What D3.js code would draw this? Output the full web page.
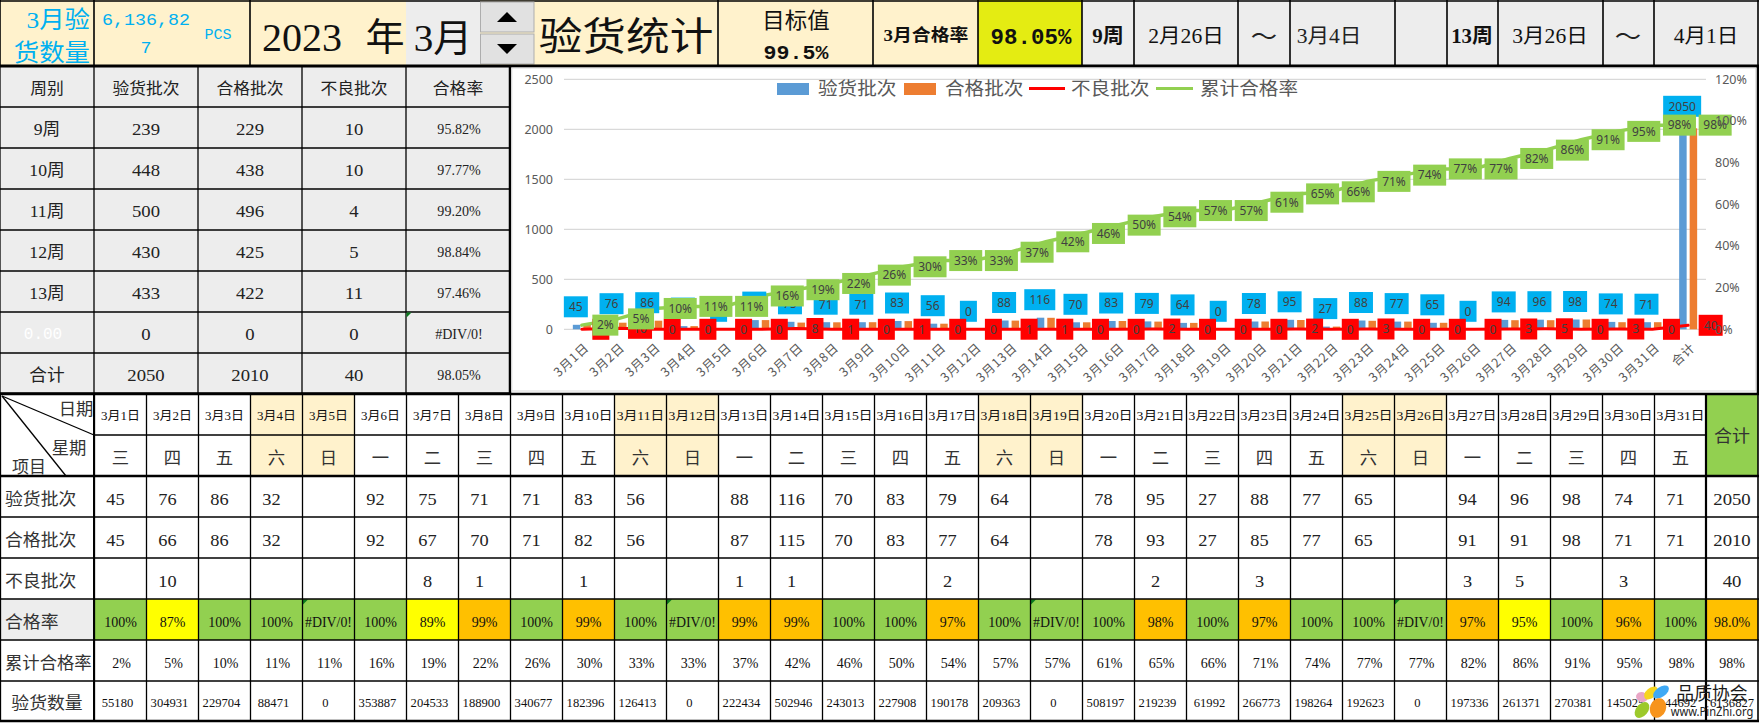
<!DOCTYPE html>
<html><head><meta charset="utf-8">
<script src="https://cdn.jsdelivr.net/npm/d3@7/dist/d3.min.js"></script>
<style>html,body{margin:0;padding:0;background:#fff;overflow:hidden}svg{display:block}</style>
</head><body><svg id="c" width="1759" height="723"></svg>
<script>
// ---------- data ----------
const days = ["3月1日","3月2日","3月3日","3月4日","3月5日","3月6日","3月7日","3月8日","3月9日","3月10日","3月11日","3月12日","3月13日","3月14日","3月15日","3月16日","3月17日","3月18日","3月19日","3月20日","3月21日","3月22日","3月23日","3月24日","3月25日","3月26日","3月27日","3月28日","3月29日","3月30日","3月31日"];
const weekdays = ["三","四","五","六","日","一","二","三","四","五","六","日","一","二","三","四","五","六","日","一","二","三","四","五","六","日","一","二","三","四","五"];
const inspected = [45,76,86,32,null,92,75,71,71,83,56,null,88,116,70,83,79,64,null,78,95,27,88,77,65,null,94,96,98,74,71];
const passed    = [45,66,86,32,null,92,67,70,71,82,56,null,87,115,70,83,77,64,null,78,93,27,85,77,65,null,91,91,98,71,71];
const defects   = [null,10,null,null,null,null,8,1,null,1,null,null,1,1,null,null,2,null,null,null,2,null,3,null,null,null,3,5,null,3,null];
const passRate  = [100,87,100,100,null,100,89,99,100,99,100,null,99,99,100,100,97,100,null,100,98,100,97,100,100,null,97,95,100,96,100];
const cumRate   = [2,5,10,11,11,16,19,22,26,30,33,33,37,42,46,50,54,57,57,61,65,66,71,74,77,77,82,86,91,95,98];
const quantity  = [55180,304931,229704,88471,0,353887,204533,188900,340677,182396,126413,0,222434,502946,243013,227908,190178,209363,0,508197,219239,61992,266773,198264,192623,0,197336,261371,270381,145025,144692];
const totals = {inspected:2050, passed:2010, defects:40, rate:98, rateText:"98.0%", cum:98, qty:6136827};
const rowLabels = ["验货批次","合格批次","不良批次","合格率","累计合格率","验货数量"];
const weekHead = ["周别","验货批次","合格批次","不良批次","合格率"];
const weekNames = ["9周","10周","11周","12周","13周","0.00","合计"];
const weekInspected = [239,448,500,430,433,0,2050];
const weekPassed = [229,438,496,425,422,0,2010];
const weekDefects = [10,10,4,5,11,0,40];
const weekRate = ["95.82%","97.77%","99.20%","98.84%","97.46%","#DIV/0!","98.05%"];
const leftTicks = [0,500,1000,1500,2000,2500];
const rightTicks = [0,20,40,60,80,100,120];
const legendNames = ["验货批次","合格批次","不良批次","累计合格率"];

// ---------- helpers ----------
const SERIF = "'Liberation Serif','Noto Sans CJK SC',serif";
const MONO = "'Liberation Mono','Noto Sans CJK SC',monospace";
const SANS = "'Noto Sans','Noto Sans CJK SC',sans-serif";
const CREAM="#FFF2CC", GRAY="#EDEDED", CYAN="#00B0F0", GREEN="#92D050", ORANGE="#FFC000", YELLOW="#FFFF00";
const svg = d3.select("#c");
const T = (g,x,y,s,o={}) => g.append("text")
  .attr("transform",`translate(${x},${y}) scale(${o.sx||1.08},1)`)
  .attr("dy",".36em").attr("text-anchor",o.anchor||"middle")
  .attr("font-family",o.family||SERIF).attr("font-size",o.size||16)
  .attr("font-weight",o.weight||400).attr("fill",o.fill||"#111").text(s);
const R = (g,x,y,w,h,f) => g.append("rect").attr("x",x).attr("y",y).attr("width",w).attr("height",h).attr("fill",f);
const L = (g,x1,y1,x2,y2,w=1.3,c="#000") => g.append("line").attr("x1",x1).attr("y1",y1).attr("x2",x2).attr("y2",y2).attr("stroke",c).attr("stroke-width",w);
const corner = (g,x,y) => g.append("path").attr("d",`M${x+.5},${y+.5}h5l-5,5z`).attr("fill","#0B7A1E");

// ---------- top band ----------
const band = svg.append("g");
R(band,0,0,406,66,CREAM); R(band,406,0,74,66,GRAY); R(band,480,0,238,66,CREAM);
R(band,718,0,260,66,CREAM); R(band,978,0,104,66,"#E4EC12"); R(band,1082,0,677,66,GRAY);
[0,94,250,718,873,978,1082,1134,1238,1290,1395,1447,1498,1603,1654,1758].forEach(x=>L(band,x,0,x,66,1.6));
L(band,0,1,1759,1,1.6);
T(band,90,19,"3月验",{size:24,sx:1.06,anchor:"end",fill:CYAN});
T(band,90,52,"货数量",{size:24,sx:1.06,anchor:"end",fill:CYAN});
T(band,146,19,"6,136,82",{size:17,family:MONO,fill:CYAN});
T(band,146,47,"7",{size:17,family:MONO,fill:CYAN});
T(band,218,34,"PCS",{size:15,sx:1,family:MONO,fill:CYAN});
T(band,302,37,"2023",{size:40,sx:1});
T(band,385,36,"年",{size:38,sx:1.03});
T(band,443,37,"3月",{size:38,sx:1.03});
T(band,626,36,"验货统计",{size:39,sx:1.12});
T(band,796,20,"目标值",{size:22,sx:1.02});
T(band,796,52,"99.5%",{size:20,sx:1.08,family:MONO,weight:700});
T(band,926,35,"3月合格率",{size:17,sx:1.11,weight:700});
T(band,1031,36,"98.05%",{size:22,sx:1.02,family:MONO,weight:700});
T(band,1108,36,"9周",{size:20,sx:1.05,weight:700});
T(band,1186,36,"2月26日",{size:20,sx:1.08});
T(band,1264,36,"～",{size:24,sx:1.1,fill:"#222"});
T(band,1329,36,"3月4日",{size:20,sx:1.08,fill:"#222"});
T(band,1472,36,"13周",{size:20,sx:1.04,weight:700});
T(band,1550,36,"3月26日",{size:20,sx:1.08});
T(band,1628,36,"～",{size:24,sx:1.1,fill:"#222"});
T(band,1706,36,"4月1日",{size:20,sx:1.08});
[[2,-1],[34,1]].forEach(([y,d])=>{
  band.append("rect").attr("x",480.5).attr("y",y).attr("width",53.5).attr("height",30).attr("fill","#E1E1E1").attr("stroke","#ADADAD");
  const m=y+15;
  band.append("path").attr("d",`M497,${m+d*-5}h20l-10,${d*10}z`).attr("fill","#000");
});

// ---------- week table ----------
const wt = svg.append("g");
R(wt,0,66,510,328,GRAY);
const wx=[0,94,198,302,406,510], wy=d3.range(8).map(i=>66+41*i);
wy.forEach(y=>L(wt,0,y,510,y));
wx.forEach(x=>L(wt,x,66,x,394));
weekHead.forEach((h,i)=>T(wt,(wx[i]+wx[i+1])/2,88,h,{size:16,sx:1.05,fill:"#222"}));
weekNames.forEach((n,i)=>{
  const y=wy[i+1]+22;
  if(n==="0.00") T(wt,43,y-1,n,{size:16,sx:1,family:MONO,fill:"#fff"});
  else T(wt,47,y,n,{size:17,sx:1.04,fill:"#222"});
  T(wt,146,y,weekInspected[i],{size:17,sx:1.1,fill:"#222"});
  T(wt,250,y,weekPassed[i],{size:17,sx:1.1,fill:"#222"});
  T(wt,354,y,weekDefects[i],{size:17,sx:1.1,fill:"#222"});
  T(wt,459,y,weekRate[i],{size:14.5,sx:.97,fill:"#222"});
  if(weekRate[i].startsWith("#")) corner(wt,406,wy[i+1]);
});
L(wt,0,393.5,510,393.5,2.5); L(wt,510,66,510,394,2.5); L(wt,0,66,1759,66,3);

// ---------- chart ----------
const ch = svg.append("g");
ch.append("rect").attr("x",511.8).attr("y",68).attr("width",1244).attr("height",323).attr("fill","#fff").attr("stroke","#D9D9D9");
const cats = days.concat(["合计"]);
const x = d3.scaleBand().domain(cats).range([564,1706]);
const y = d3.scaleLinear().domain([0,2500]).range([329.3,79.3]);
const yR = d3.scaleLinear().domain([0,120]).range([329.3,79.3]);
const cx = d => x(d)+x.bandwidth()/2;
const vIns = inspected.map(v=>v||0).concat([totals.inspected]);
const vPas = passed.map(v=>v||0).concat([totals.passed]);
const vDef = defects.map(v=>v||0).concat([totals.defects]);
const vCum = cumRate.concat([totals.cum]);
ch.append("g").selectAll("line").data(leftTicks).join("line")
  .attr("x1",564).attr("x2",1706).attr("y1",d=>y(d)).attr("y2",d=>y(d)).attr("stroke","#D9D9D9").attr("stroke-width",1.2);
const axL = ch.append("g").attr("transform","translate(553,0)").call(d3.axisLeft(y).tickValues(leftTicks).tickFormat(d3.format("d")).tickSize(0).tickPadding(0));
const axR = ch.append("g").attr("transform","translate(1715,0)").call(d3.axisRight(yR).tickValues(rightTicks).tickFormat(d=>d+"%").tickSize(0).tickPadding(0));
[axL,axR].forEach(a=>{a.select(".domain").remove();a.selectAll("text").attr("font-family",SANS).attr("font-size",12.5).attr("fill","#595959");});
const axB = ch.append("g").attr("transform","translate(0,329.3)").call(d3.axisBottom(x).tickSize(0).tickPadding(0));
axB.select(".domain").remove();
axB.selectAll("text").attr("font-family","'Noto Sans CJK SC'").attr("font-size",12.5).attr("letter-spacing",".9px").attr("fill","#595959")
  .attr("text-anchor","end").attr("y",0).attr("dy",".35em").attr("transform","translate(5,16) rotate(-43)");
const barW=7.5;
ch.append("g").selectAll("rect").data(cats).join("rect").attr("x",d=>cx(d)-1.5-barW).attr("width",barW)
  .attr("y",(d,i)=>y(vIns[i])).attr("height",(d,i)=>y(0)-y(vIns[i])).attr("fill","#5B9BD5");
ch.append("g").selectAll("rect").data(cats).join("rect").attr("x",d=>cx(d)+1.5).attr("width",barW)
  .attr("y",(d,i)=>y(vPas[i])).attr("height",(d,i)=>y(0)-y(vPas[i])).attr("fill","#ED7D31");
const lineDef = d3.line().x((d,i)=>cx(cats[i])).y(d=>y(d));
const lineCum = d3.line().x((d,i)=>cx(cats[i])).y(d=>yR(d));
ch.append("path").attr("d",lineDef(vDef)).attr("fill","none").attr("stroke","#FF0000").attr("stroke-width",3).attr("stroke-linecap","round");
ch.append("path").attr("d",lineCum(vCum)).attr("fill","none").attr("stroke",GREEN).attr("stroke-width",3.5).attr("stroke-linecap","round");
const label=(g,cxv,cyv,txt,fill)=>{
  const w=txt.endsWith("%")?12+7*txt.length:10+7*txt.length;
  R(g,cxv(w)-w/2,cyv-10.5,w,21,fill);
  T(g,cxv(w),cyv,txt,{size:12,sx:1,family:SANS,fill:"#404040"});
};
const lb=ch.append("g");
cats.forEach((d,i)=>label(lb,()=>cx(d)-6,y(vIns[i])-18,String(vIns[i]),CYAN));
cats.forEach((d,i)=>label(lb,w=>cx(d)+w/2+10.5,y(vDef[i]),String(vDef[i]),"#FF0000"));
cats.forEach((d,i)=>label(lb,w=>cx(d)+w/2+10.5,yR(vCum[i]),vCum[i]+"%",GREEN));
axR.raise();
// legend
const lg=ch.append("g");
R(lg,777,83,32,12,"#5B9BD5"); R(lg,904,83,32,12,"#ED7D31");
L(lg,1029,88.5,1065,88.5,3,"#FF0000"); L(lg,1156,88.5,1193,88.5,3,GREEN);
[[818,0],[945,1],[1071,2],[1200,3]].forEach(([px,i])=>T(lg,px,89,legendNames[i],{size:18,sx:1.09,anchor:"start",family:"'Noto Sans CJK SC'",fill:"#595959"}));
L(ch,1758,66,1758,394,2.5);

// ---------- daily table ----------
const tb = svg.append("g");
const xd = d3.scaleBand().domain(days).range([94.5,1706.5]);
const rowY=[394,435,476,517,558,599,640,681,721];
const mid=d=>xd(d)+xd.bandwidth()/2;
R(tb,0,394,1759,329,"#fff");
days.forEach((d,i)=>{
  const wk=weekdays[i]==="六"||weekdays[i]==="日";
  if(wk) R(tb,xd(d),394,xd.bandwidth(),82,CREAM);
  T(tb,mid(d),416,d,{size:12,sx:d.length>4?1.14:1.08});
  T(tb,mid(d),458,weekdays[i],{size:17,sx:1.02,fill:"#333"});
  const num=(v,r)=>{ if(v!=null) T(tb,mid(d)-5,(rowY[r]+rowY[r+1])/2+2,v,{size:17,sx:1.08,fill:"#222"}); };
  num(inspected[i],2); num(passed[i],3); num(defects[i],4);
  const pr=passRate[i];
  const col=pr==null||pr===100?GREEN:pr>95?ORANGE:YELLOW;
  R(tb,xd(d),599,xd.bandwidth(),41,col);
  if(pr==null) corner(tb,xd(d),599);
  T(tb,mid(d),622,pr==null?"#DIV/0!":pr+"%",{size:14,sx:pr==null?.99:1});
  T(tb,mid(d)+1,663,cumRate[i]+"%",{size:14,sx:1});
  T(tb,mid(d)-3,703,quantity[i],{size:12,sx:1.05});
});
R(tb,0,599,94,41,GRAY);
R(tb,1706,394,52,82,GREEN);
R(tb,1706,599,52,41,ORANGE);
T(tb,1732,436,"合计",{size:17,sx:1.06,fill:"#333"});
T(tb,1732,499,totals.inspected,{size:17,sx:1.1,fill:"#222"});
T(tb,1732,540,totals.passed,{size:17,sx:1.1,fill:"#222"});
T(tb,1732,581,totals.defects,{size:17,sx:1.1,fill:"#222"});
T(tb,1732,622,totals.rateText,{size:14,sx:1});
T(tb,1732,663,totals.cum+"%",{size:14,sx:1});
T(tb,1732,703,totals.qty,{size:12,sx:1.05});
// grid
rowY.forEach((ry,i)=>{
  const thick=i===0||i===2||i===8;
  if(i===1) L(tb,94,ry,1706,ry);
  else L(tb,0,ry,1759,ry,thick?2.5:1.3);
});
days.forEach(d=>L(tb,xd(d),394,xd(d),721));
L(tb,94,394,94,721,2); L(tb,1706,394,1706,721,2.2); L(tb,1758,394,1758,721,1.6); L(tb,.5,394,.5,721,1.3);
L(tb,2,396,94,435); L(tb,2,396,66,476);
T(tb,76,409,"日期",{size:17,sx:1.02,fill:"#333"});
T(tb,69,448,"星期",{size:17,sx:1.02,fill:"#333"});
T(tb,29,467,"项目",{size:17,sx:1.0,fill:"#333"});
rowLabels.forEach((s,i)=>{
  const yy=(rowY[i+2]+rowY[i+3])/2+2;
  if(i<5) T(tb,5,yy,s,{size:17,sx:i===4?1.02:1.05,anchor:"start",fill:"#333"});
  else T(tb,47,yy,s,{size:17,sx:1.05,fill:"#333"});
});

// ---------- watermark ----------
const wm=svg.append("g");
[["#E9A6C6",1642,697,15,6,5],["#F6D51F",1651,693,-40,8,5],["#3FA9F5",1661,692,-35,9,5],["#9CC92B",1642,710,-50,9,6],["#F7941D",1658,708,-70,10,8]].forEach(([c,a,b,r,rx,ry])=>{
  wm.append("ellipse").attr("transform",`translate(${a},${b}) rotate(${r})`).attr("rx",rx).attr("ry",ry).attr("fill",c);
});
T(wm,1712,694,"品质协会",{size:18,sx:.99,family:"'Noto Sans CJK SC'",fill:"#1a1a1a"});
T(wm,1712,712,"www.PinZhi.org",{size:12,sx:.93,family:SANS,fill:"#222"});
</script></body></html>
